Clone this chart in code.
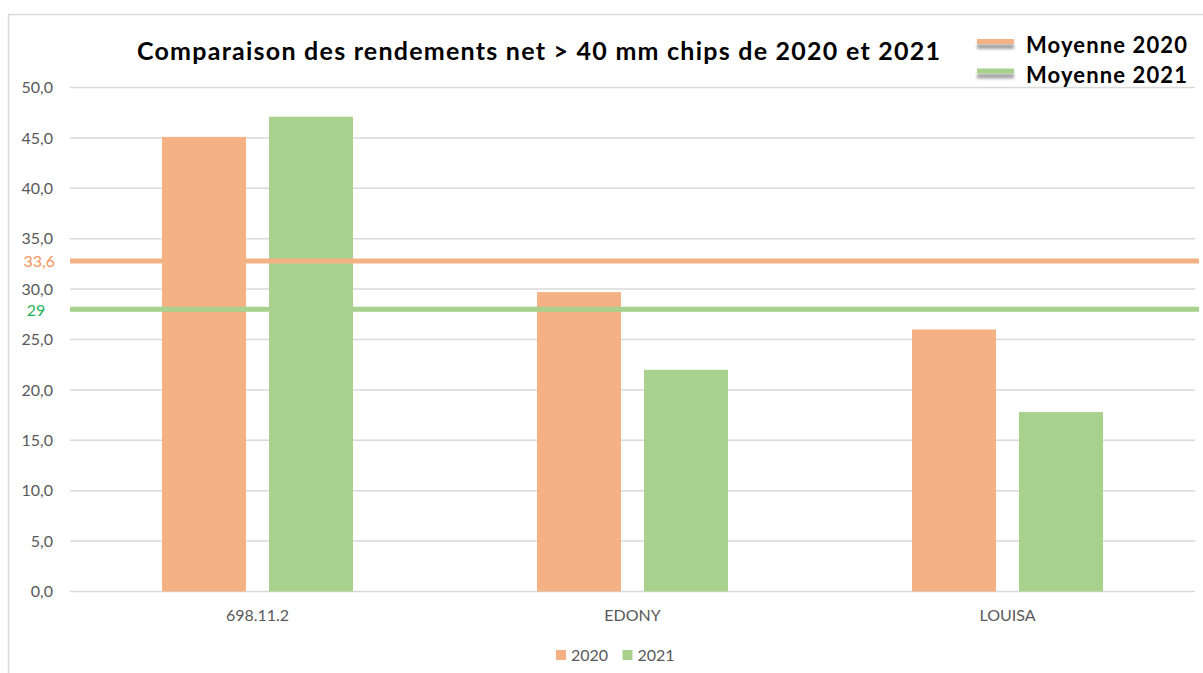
<!DOCTYPE html>
<html lang="fr">
  <head>
    <meta charset="UTF-8" />
    <title>Comparaison des rendements net</title>
    <script src="https://d3js.org/d3.v7.min.js"></script>
    <style>
      body {
        margin: 0;
        padding: 0;
        background: #fff;
        font-family: Lato, "Open Sans", sans-serif;
      }
      .grid line {
        stroke: #d9d9d9;
        stroke-width: 1.5;
      }
      .tick-label {
        fill: #595959;
        font-size: 16px;
      }
    </style>
  </head>
  <body>
    <div id="chart"></div>
    <script>
      const categories = ["698.11.2", "EDONY", "LOUISA"];
      const series = ["2020", "2021"];
      const values2020 = [45.1, 29.7, 26.0];
      const values2021 = [47.1, 22.0, 17.8];
      const yTicks = [0, 5, 10, 15, 20, 25, 30, 35, 40, 45, 50];
      const meanNames = ["Moyenne 2020", "Moyenne 2021"];
      const meanValues = [32.8, 28.0];
      const meanLabels = ["33,6", "29"];

      const colors = ["#f4b183", "#a9d18e"];
      const meanLabelColors = ["#f4945c", "#1fb45a"];

      const width = 1203;
      const height = 673;
      const plot = { left: 70, right: 1195, top: 87.5, bottom: 591.5 };

      const svg = d3
        .select("#chart")
        .append("svg")
        .attr("width", width)
        .attr("height", height);

      const defs = svg.append("defs");
      defs
        .append("filter")
        .attr("id", "blur")
        .attr("filterUnits", "userSpaceOnUse")
        .attr("x", -10)
        .attr("y", -10)
        .attr("width", 60)
        .attr("height", 30)
        .append("feGaussianBlur")
        .attr("stdDeviation", 1.5);

      // frame (left and top edges visible)
      svg
        .append("path")
        .attr("d", `M8.5,${height} V14.5 H${width}`)
        .attr("fill", "none")
        .attr("stroke", "#d9d9d9")
        .attr("stroke-width", 1.5);

      const comma = d3.formatLocale({
        decimal: ",",
        thousands: " ",
        grouping: [3],
        currency: ["", " €"],
      });

      const y = d3
        .scaleLinear()
        .domain([0, 50])
        .range([plot.bottom, plot.top]);

      const x0 = d3
        .scaleBand()
        .domain(categories)
        .range([plot.left, plot.right])
        .padding(0);

      const x1 = d3
        .scaleBand()
        .domain(series)
        .range([0, x0.bandwidth()])
        .paddingInner(0.215)
        .paddingOuter(0.86);

      // gridlines
      svg
        .append("g")
        .attr("class", "grid")
        .selectAll("line")
        .data(yTicks)
        .join("line")
        .attr("x1", plot.left)
        .attr("x2", plot.right)
        .attr("y1", (d) => y(d))
        .attr("y2", (d) => y(d));

      // y labels
      svg
        .append("g")
        .selectAll("text")
        .data(yTicks)
        .join("text")
        .attr("class", "tick-label")
        .attr("x", 53)
        .attr("y", (d) => y(d))
        .attr("dy", "0.35em")
        .attr("text-anchor", "end")
        .text((d) => comma.format(".1f")(d));

      // bars
      const rows = categories.map((c, i) => ({
        cat: c,
        vals: [values2020[i], values2021[i]],
      }));

      svg
        .append("g")
        .selectAll("g")
        .data(rows)
        .join("g")
        .attr("transform", (d) => `translate(${x0(d.cat)},0)`)
        .selectAll("rect")
        .data((d) => d.vals.map((v, j) => ({ s: series[j], v, j })))
        .join("rect")
        .attr("x", (d) => x1(d.s))
        .attr("width", x1.bandwidth())
        .attr("y", (d) => y(d.v))
        .attr("height", (d) => y(0) - y(d.v))
        .attr("fill", (d) => colors[d.j]);

      // x labels
      svg
        .append("g")
        .selectAll("text")
        .data(categories)
        .join("text")
        .attr("class", "tick-label")
        .attr("x", (d) => x0(d) + x0.bandwidth() / 2)
        .attr("y", 621)
        .attr("text-anchor", "middle")
        .text((d) => d);

      // mean lines
      svg
        .append("g")
        .selectAll("line")
        .data(meanValues)
        .join("line")
        .attr("x1", plot.left)
        .attr("x2", 1199)
        .attr("y1", (d) => y(d))
        .attr("y2", (d) => y(d))
        .attr("stroke", (d, i) => colors[i])
        .attr("stroke-width", 5);

      svg
        .append("g")
        .selectAll("text")
        .data(meanValues)
        .join("text")
        .attr("x", (d, i) => (i === 0 ? 55 : 36))
        .attr("y", (d) => y(d) + 1)
        .attr("dy", "0.35em")
        .attr("text-anchor", (d, i) => (i === 0 ? "end" : "middle"))
        .attr("font-size", "16px")
        .attr("fill", (d, i) => meanLabelColors[i])
        .text((d, i) => meanLabels[i]);

      // title
      svg
        .append("text")
        .attr("x", 137)
        .attr("y", 60)
        .attr("font-size", "25px")
        .attr("font-weight", "bold")
        .attr("fill", "#000")
        .attr("textLength", 803)
        .attr("lengthAdjust", "spacing")
        .text("Comparaison des rendements net > 40 mm chips de 2020 et 2021");

      // top-right legend
      const topLegend = svg
        .append("g")
        .selectAll("g")
        .data(meanNames)
        .join("g")
        .attr("transform", (d, i) => `translate(977, ${41.5 + i * 29.5})`);

      topLegend
        .append("rect")
        .attr("x", 0)
        .attr("y", 2.5)
        .attr("width", 37)
        .attr("height", 5)
        .attr("fill", "#8c8c8c")
        .attr("opacity", 0.8)
        .attr("filter", "url(#blur)");

      topLegend
        .append("rect")
        .attr("x", 0)
        .attr("y", -2.5)
        .attr("width", 37)
        .attr("height", 5)
        .attr("fill", (d, i) => colors[i]);

      topLegend
        .append("text")
        .attr("x", 49)
        .attr("y", 4)
        .attr("dy", "0.35em")
        .attr("font-size", "22px")
        .attr("font-weight", "bold")
        .attr("fill", "#000")
        .attr("textLength", 161)
        .attr("lengthAdjust", "spacing")
        .text((d) => d);

      // bottom legend
      const bottomLegend = svg
        .append("g")
        .selectAll("g")
        .data(series)
        .join("g")
        .attr("transform", (d, i) => `translate(${556 + i * 66.5}, 655)`);

      bottomLegend
        .append("rect")
        .attr("x", 0)
        .attr("y", -5)
        .attr("width", 10)
        .attr("height", 10)
        .attr("fill", (d, i) => colors[i]);

      bottomLegend
        .append("text")
        .attr("class", "tick-label")
        .attr("x", 15)
        .attr("y", 0)
        .attr("dy", "0.35em")
        .text((d) => d);
    </script>
  </body>
</html>
